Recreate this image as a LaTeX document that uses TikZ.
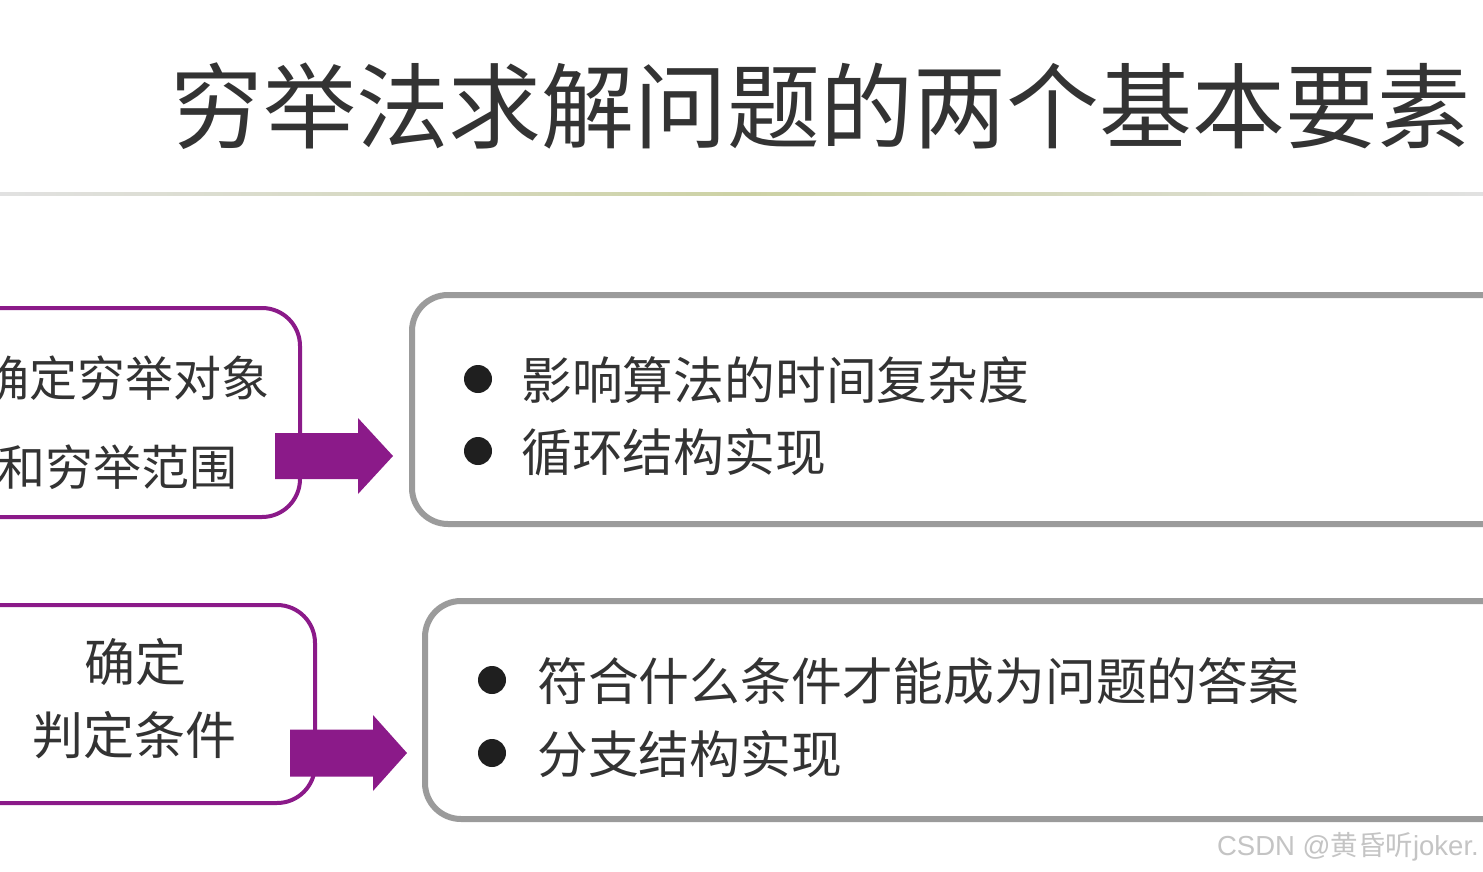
\documentclass[tikz,border=0pt]{standalone}
\usepackage{fontspec}
\setmainfont{Noto Sans CJK SC}
\newfontfamily\cjkf{Noto Sans CJK SC}
\newfontfamily\wmfont{Liberation Sans}
\usetikzlibrary{calc}
\definecolor{ppl}{RGB}{139,26,137}
\definecolor{gbd}{RGB}{155,155,155}
\definecolor{txt}{RGB}{51,51,51}
\definecolor{wm}{RGB}{196,196,196}
\definecolor{lineA}{RGB}{225,225,225}
\definecolor{lineB}{RGB}{205,210,165}
\tikzset{
  leftbox/.style={draw=ppl, line width=4pt, rounded corners=38pt, inner sep=0pt, outer sep=0pt},
  rightbox/.style={draw=gbd, line width=6pt, rounded corners=36pt, inner sep=0pt, outer sep=0pt},
  bullet/.style={circle, fill=black!88, minimum size=28pt, inner sep=0pt},
  btext/.style={anchor=west, inner sep=0pt, text=txt, font=\fontsize{50.8}{60}\selectfont},
  ltext/.style={inner sep=0pt, text=txt},
  blockarrow/.style={fill=ppl}
}
\begin{document}
\begin{tikzpicture}[x=1pt,y=-1pt]
\useasboundingbox (0,0) rectangle (1483,872);
\clip (0,0) rectangle (1483,872);
\fill[white] (0,0) rectangle (1483,872);

% title
\node[anchor=west, inner sep=0pt, text=txt, font=\fontsize{92.9}{110}\selectfont] (title) at (170,106) {穷举法求解问题的两个基本要素};
\shade[left color=lineA, right color=lineA, middle color=lineB] (0,192) rectangle (1483,195);

% left boxes
\node[leftbox, minimum width=354pt, minimum height=209pt] (L1) at (123,412.5) {};
\node[ltext, font=\fontsize{48}{58}\selectfont] (L1a) at (125,378) {确定穷举对象};
\node[ltext, font=\fontsize{48}{58}\selectfont] (L1b) at (118,467) {和穷举范围};

\node[leftbox, minimum width=362pt, minimum height=198pt] (L2) at (134,704) {};
\node[ltext, font=\fontsize{51}{60}\selectfont] (L2a) at (135,662) {确定};
\node[ltext, font=\fontsize{51}{60}\selectfont] (L2b) at (134,735) {判定条件};

% right boxes
\node[rightbox, minimum width=1148pt, minimum height=229pt] (R1) at (986,409.5) {};
\node[rightbox, minimum width=1135pt, minimum height=218pt] (R2) at (992.5,710) {};

% bullets
\node[bullet] (b1) at (478,379) {};
\node[btext] (t1) at (521,380) {影响算法的时间复杂度};
\node[bullet] (b2) at (478,451) {};
\node[btext] (t2) at (521,452) {循环结构实现};
\node[bullet] (b3) at (492,680) {};
\node[btext] (t3) at (537,681) {符合什么条件才能成为问题的答案};
\node[bullet] (b4) at (492,753) {};
\node[btext] (t4) at (537,754) {分支结构实现};

% block arrows
\coordinate (a1s) at (275,456);
\coordinate (a1e) at (393,456);
\fill[blockarrow] ($(a1s)+(0,-23)$) -- ($(a1e)+(-35,-23)$) -- ($(a1e)+(-35,-38)$) -- (a1e)
  -- ($(a1e)+(-35,38)$) -- ($(a1e)+(-35,23)$) -- ($(a1s)+(0,23)$) -- cycle;
\coordinate (a2s) at (290,753);
\coordinate (a2e) at (407,753);
\fill[blockarrow] ($(a2s)+(0,-23.5)$) -- ($(a2e)+(-34,-23.5)$) -- ($(a2e)+(-34,-38)$) -- (a2e)
  -- ($(a2e)+(-34,38)$) -- ($(a2e)+(-34,23.5)$) -- ($(a2s)+(0,23.5)$) -- cycle;

% watermark
\node[anchor=east, inner sep=0pt, text=wm, font=\wmfont\fontsize{27.5}{32}\selectfont] (wm) at (1479,847) {CSDN @{\cjkf 黄昏听}joker.};
\end{tikzpicture}
\end{document}
